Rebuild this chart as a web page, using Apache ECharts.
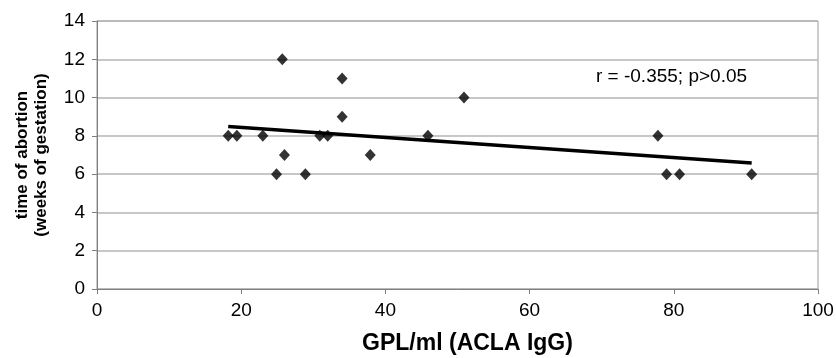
<!DOCTYPE html>
<html><head><meta charset="utf-8">
<script src="https://cdn.jsdelivr.net/npm/echarts@6/dist/echarts.min.js"></script>
<style>html,body{margin:0;padding:0;background:#fff}#c{width:836px;height:358px}</style>
</head><body><div id="c"></div>
<script>
const aclaIgG = [18.2, 19.4, 23.0, 24.9, 25.7, 26.0, 28.9, 30.9, 32.0, 34.0, 34.0, 37.9, 45.9, 50.9, 77.8, 79.0, 80.8, 90.8];
const weeks   = [8, 8, 8, 6, 12, 7, 6, 8, 8, 11, 9, 7, 8, 10, 8, 6, 6, 6];
const trendX = [18.2, 90.8];
const trendY = [8.49, 6.58];
const annotation = 'r = -0.355; p>0.05';
const xTitle = 'GPL/ml (ACLA IgG)';
const yTitle = 'time of abortion\n(weeks of gestation)';

const chart = echarts.init(document.getElementById('c'));
const font = 'Liberation Sans, Arial, sans-serif';
chart.setOption({
  animation: false,
  textStyle: {fontFamily: font},
  grid: {left: 97, right: 18, top: 21, bottom: 69, show: true, borderColor: '#999', borderWidth: 1,
         containLabel: false, outerBoundsMode: 'none'},
  xAxis: {
    type: 'value', min: 0, max: 100, interval: 20,
    name: xTitle, nameLocation: 'middle', nameGap: 43,
    nameTextStyle: {fontSize: 23, fontWeight: 'bold', color: '#000', fontFamily: font, padding: [0, 0, 0, 20]},
    axisLine: {lineStyle: {color: '#808080'}},
    axisTick: {show: true, length: 5, lineStyle: {color: '#808080'}},
    axisLabel: {fontSize: 19, color: '#000', margin: 12, fontFamily: font},
    splitLine: {show: false}
  },
  yAxis: {
    type: 'value', min: 0, max: 14, interval: 2,
    name: yTitle, nameLocation: 'middle', nameGap: 46,
    nameTextStyle: {fontSize: 17, fontWeight: 'bold', color: '#000', fontFamily: font, lineHeight: 19},
    axisLine: {show: true, lineStyle: {color: '#808080'}},
    axisTick: {show: true, length: 5, lineStyle: {color: '#808080'}},
    axisLabel: {fontSize: 19, color: '#000', margin: 12, fontFamily: font},
    splitLine: {show: true, lineStyle: {color: '#b4b4b4', width: 1.5}}
  },
  series: [
    {
      type: 'line', data: trendX.map((x, i) => [x, trendY[i]]),
      showSymbol: false, symbol: 'none',
      lineStyle: {color: '#000', width: 3.5}, z: 2
    },
    {
      type: 'scatter', data: aclaIgG.map((x, i) => [x, weeks[i]]),
      symbol: 'diamond', symbolSize: [11, 12],
      itemStyle: {color: '#000'}, z: 3
    }
  ],
  graphic: [{
    type: 'text', left: 596, top: 67,
    style: {text: annotation, fontSize: 19, fill: '#000', fontFamily: font}
  }]
});
</script></body></html>
